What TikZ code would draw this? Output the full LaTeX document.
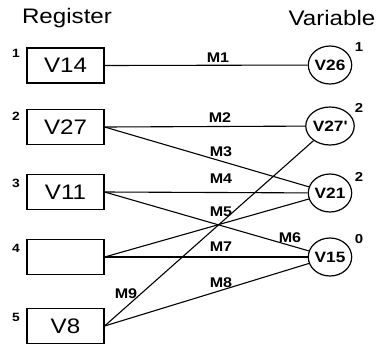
\documentclass[tikz,border=0pt]{standalone}
\usepackage{fontspec}
\setmainfont{Liberation Sans}[FakeStretch=1.15]
\usetikzlibrary{shapes.geometric}

\begin{document}
\begin{tikzpicture}[x=1pt,y=-1pt,
  reg/.style={draw, line width=1.2pt, minimum width=77pt, minimum height=35pt,
              inner sep=0pt, font=\fontsize{21}{21}\selectfont},
  var/.style={draw, ellipse, line width=1.2pt, minimum width=41pt, minimum height=38pt,
              inner sep=0pt, font=\bfseries\fontsize{15}{15}\selectfont},
  idx/.style={font=\bfseries\fontsize{12}{12}\selectfont, inner sep=0pt},
  lab/.style={font=\bfseries\fontsize{14}{14}\selectfont, inner sep=0pt},
  hdr/.style={font=\fontsize{21}{21}\selectfont, inner sep=0pt},
  wire/.style={line width=1.1pt}]
  \useasboundingbox (0,0) rectangle (384,349);

  % column headings
  \node[hdr] (hreg) at (67,18) {Register};
  \node[hdr] (hvar) at (332,18) {Variable};

  % registers
  \node[reg] (r1) at (65.5,65.5) {V14};
  \node[reg] (r2) at (65.5,127) {V27};
  \node[reg] (r3) at (65.5,192) {V11};
  \node[reg] (r4) at (65.5,257) {};
  \node[reg] (r5) at (65.5,326) {V8};
  \node[idx] (n1) at (16,53) {1};
  \node[idx] (n2) at (16,116) {2};
  \node[idx] (n3) at (16,183) {3};
  \node[idx] (n4) at (16,248) {4};
  \node[idx] (n5) at (16,317) {5};

  % variables
  \node[var] (v26) at (330,65) {V26};
  \node[var] (v27) at (330,126) {V27\textquotesingle};
  \node[var] (v21) at (330,193) {V21};
  \node[var] (v15) at (330,257) {V15};
  \node[idx,font=\bfseries\fontsize{13}{13}\selectfont] (c1) at (359,47) {1};
  \node[idx,font=\bfseries\fontsize{13}{13}\selectfont] (c2) at (359,108) {2};
  \node[idx,font=\bfseries\fontsize{13}{13}\selectfont] (c3) at (359,177) {2};
  \node[idx,font=\bfseries\fontsize{13}{13}\selectfont] (c4) at (359,239) {0};

  % moves
  \draw[wire] (r1.east) -- (v26);
  \draw[wire] (r2.east) -- (v27);
  \draw[wire] (r2.east) -- (v21);
  \draw[wire] (r3.east) -- (v21);
  \draw[wire] (r4.east) -- (v21);
  \draw[wire] (r3.east) -- (v15);
  \draw[wire] (r4.east) -- (v15);
  \draw[wire] (r5.east) -- (v15);
  \draw[wire] (r5.east) -- (v27);

  \node[lab] (m1) at (218,58) {M1};
  \node[lab] (m2) at (220,118) {M2};
  \node[lab] (m3) at (221,152) {M3};
  \node[lab] (m4) at (221,179) {M4};
  \node[lab] (m5) at (221,212) {M5};
  \node[lab] (m6) at (290,238) {M6};
  \node[lab] (m7) at (221,247) {M7};
  \node[lab] (m8) at (221,283) {M8};
  \node[lab] (m9) at (126,294) {M9};
\end{tikzpicture}
\end{document}
